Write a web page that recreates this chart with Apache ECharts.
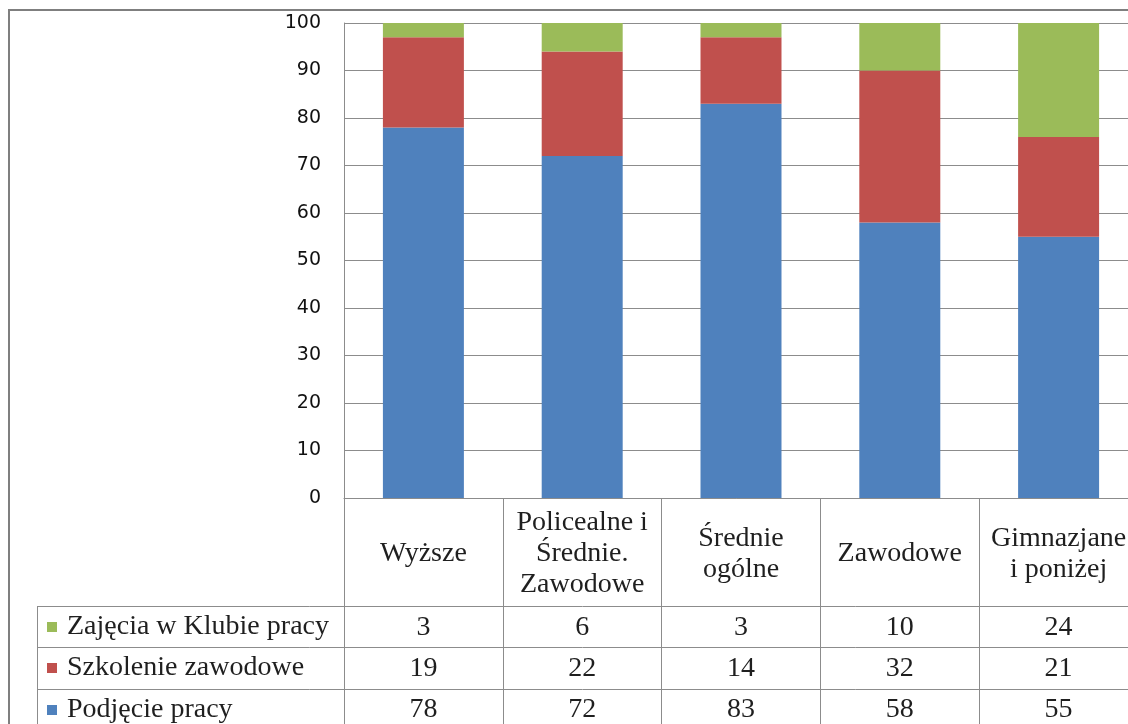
<!DOCTYPE html>
<html>
<head>
<meta charset="utf-8">
<script src="https://cdn.jsdelivr.net/npm/echarts@6/dist/echarts.min.js"></script>
<style>
    html, body { margin: 0; padding: 0; background: #fff; }
    #chart { width: 1128px; height: 724px; }
</style>
</head>
<body>
<div id="chart"></div>
<script>
// dane z wykresu
const categories = ["Wyższe", "Policealne i\nŚrednie.\nZawodowe", "Średnie\nogólne", "Zawodowe", "Gimnazjane\ni poniżej"];
const podjeciePracy = [78, 72, 83, 58, 55];
const szkolenieZawodowe = [19, 22, 14, 32, 21];
const zajeciaKlub = [3, 6, 3, 10, 24];
const seriesNames = ["Podjęcie pracy", "Szkolenie zawodowe", "Zajęcia w Klubie pracy"];
const yTicks = [0, 10, 20, 30, 40, 50, 60, 70, 80, 90, 100];

const lineColor = "#8c8c8c";
const textColor = "#1f1f1f";
const serif = "'Liberation Serif', 'Times New Roman', serif";

// wiersz tabeli danych pod osią x
const tableRow = (values, offset) => ({
    type: "category",
    gridIndex: 0,
    position: "bottom",
    offset: offset,
    data: categories,
    axisLine: { show: false },
    axisTick: { show: false },
    splitLine: { show: false },
    axisLabel: {
        interval: 0,
        margin: 0,
        verticalAlign: "middle",
        fontFamily: serif,
        fontSize: 28,
        color: textColor,
        formatter: (v, i) => String(values[i]),
    },
});

// legenda w pierwszej kolumnie tabeli, jedna pozycja na wiersz
const legendRow = (name, top) => ({
    orient: "horizontal",
    left: 47,
    top: top,
    padding: 0,
    itemWidth: 10,
    itemHeight: 10,
    icon: "rect",
    selectedMode: false,
    data: [name],
    textStyle: {
        fontFamily: serif,
        fontSize: 28,
        lineHeight: 28,
        color: textColor,
        padding: [0, 0, 0, 5],
    },
});

const hLine = y => ({
    type: "line",
    shape: { x1: 37, y1: y + 0.5, x2: 1128, y2: y + 0.5 },
    style: { stroke: lineColor, lineWidth: 1 },
});

const myChart = echarts.init(document.getElementById("chart"));
myChart.setOption({
    backgroundColor: "#fff",
    animation: false,
    grid: {
        left: 344,
        top: 23,
        width: 794,
        height: 475,
        containLabel: false,
        outerBoundsMode: "none",
    },
    legend: [
        legendRow(seriesNames[2], 613),
        legendRow(seriesNames[1], 654),
        legendRow(seriesNames[0], 696),
    ],
    xAxis: [
        {
            type: "category",
            data: categories,
            boundaryGap: true,
            axisLine: { show: true, lineStyle: { color: lineColor, width: 1 } },
            axisTick: { show: true, length: 240, lineStyle: { color: lineColor, width: 1 } },
            splitLine: { show: false },
            axisLabel: {
                interval: 0,
                margin: 56,
                verticalAlign: "middle",
                fontFamily: serif,
                fontSize: 28,
                lineHeight: 31,
                color: textColor,
            },
        },
        tableRow(zajeciaKlub, 130),
        tableRow(szkolenieZawodowe, 171),
        tableRow(podjeciePracy, 212),
    ],
    yAxis: {
        type: "value",
        min: yTicks[0],
        max: yTicks[yTicks.length - 1],
        interval: 10,
        axisLine: { show: true, lineStyle: { color: lineColor, width: 1 } },
        axisTick: { show: false },
        splitLine: { show: true, lineStyle: { color: lineColor, width: 1 } },
        axisLabel: {
            margin: 23,
            padding: [4, 0, 0, 0],
            fontFamily: "'DejaVu Sans', Verdana, sans-serif",
            fontSize: 19,
            color: "#111",
        },
    },
    series: [
        {
            name: seriesNames[0],
            type: "bar",
            stack: "razem",
            barWidth: "51%",
            data: podjeciePracy,
            itemStyle: { color: "#4f81bd" },
        },
        {
            name: seriesNames[1],
            type: "bar",
            stack: "razem",
            barWidth: "51%",
            data: szkolenieZawodowe,
            itemStyle: { color: "#c0504d" },
        },
        {
            name: seriesNames[2],
            type: "bar",
            stack: "razem",
            barWidth: "51%",
            data: zajeciaKlub,
            itemStyle: { color: "#9bbb59" },
        },
    ],
    graphic: [
        {
            type: "rect",
            shape: { x: 9, y: 10, width: 1200, height: 800 },
            style: { fill: "none", stroke: "#7f7f7f", lineWidth: 2 },
            silent: true,
        },
        hLine(606),
        hLine(647),
        hLine(689),
        {
            type: "line",
            shape: { x1: 37.5, y1: 606, x2: 37.5, y2: 724 },
            style: { stroke: lineColor, lineWidth: 1 },
        },
    ],
});
</script>
</body>
</html>
